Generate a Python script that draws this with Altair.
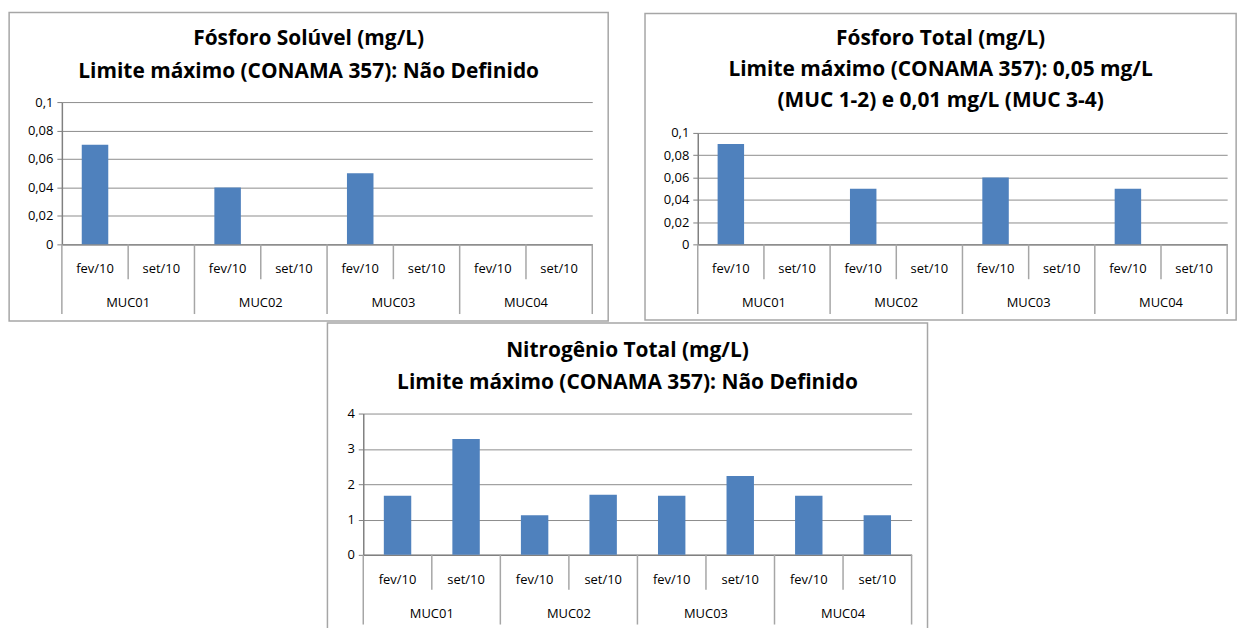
import altair as alt
import pandas as pd

stations = ["MUC01", "MUC02", "MUC03", "MUC04"]
months = ["fev/10", "set/10"]

fosforo_soluvel = [0.07, None, 0.04, None, 0.05, None, None, None]
fosforo_total = [0.09, None, 0.05, None, 0.06, None, 0.05, None]
nitrogenio_total = [1.67, 3.28, 1.12, 1.70, 1.67, 2.23, 1.67, 1.12]

ticks_fosforo = [0, 0.02, 0.04, 0.06, 0.08, 0.1]
ticks_nitro = [0, 1, 2, 3, 4]

titles = [
    "Fósforo Solúvel (mg/L)\nLimite máximo (CONAMA 357): Não Definido",
    "Fósforo Total  (mg/L)\nLimite máximo (CONAMA 357): 0,05 mg/L\n(MUC 1-2) e 0,01 mg/L (MUC 3-4)",
    "Nitrogênio Total  (mg/L)\nLimite máximo (CONAMA 357): Não Definido",
]

BLUE = "#4F81BD"
GRID = "#8c8c8c"
FRAME = "#a6a6a6"
FONT = "Open Sans"
LBL = 13


def bars_df(values):
    rows = []
    i = 0
    for s in stations:
        for m in months:
            rows.append({"station": s, "month": m, "i": i, "value": values[i]})
            i += 1
    return pd.DataFrame(rows)


month_labels = pd.DataFrame(
    [{"pos": si * 2 + mi + 0.5, "label": m} for si in range(len(stations)) for mi, m in enumerate(months)]
)
station_labels = pd.DataFrame([{"pos": si * 2 + 1, "label": s} for si, s in enumerate(stations)])
n_cat = len(stations) * len(months)
long_sep = pd.DataFrame([{"b": b} for b in range(0, n_cat + 1, 2)])
short_sep = pd.DataFrame([{"b": b} for b in range(1, n_cat, 2)])


def panel(values, yticks, title, W, H, ytop, frame, title_dy, lh, extra_right=0):
    fl, fr, ft, fb = frame
    xscale = alt.Scale(domain=[0, n_cat], nice=False, zero=False)
    df = bars_df(values)
    bars = (
        alt.Chart(df)
        .transform_filter("isValid(datum.value)")
        .transform_calculate(x0="datum.i + 0.3", x1="datum.i + 0.7")
        .mark_bar(color=BLUE)
        .encode(
            x=alt.X(
                "x0:Q",
                scale=xscale,
                axis=alt.Axis(
                    labels=False, ticks=False, grid=False, title=None,
                    domainColor="#808080", domainWidth=1.5,
                ),
            ),
            x2="x1:Q",
            y=alt.Y(
                "value:Q",
                scale=alt.Scale(domain=[yticks[0], yticks[-1]], nice=False, range=[H, ytop]),
                axis=alt.Axis(
                    values=yticks,
                    title=None,
                    labelExpr="replace(format(datum.value, '~g'), '.', ',')",
                    labelFont=FONT,
                    labelFontSize=LBL,
                    labelColor="#000000",
                    labelPadding=4,
                    tickSize=5,
                    tickColor="#808080",
                    domainColor="#808080",
                    domainWidth=1.5,
                    gridColor=GRID,
                    gridWidth=1,
                ),
            ),
            y2=alt.datum(0),
        )
    )
    seps_long = (
        alt.Chart(long_sep)
        .mark_rule(color=FRAME, strokeWidth=1.5)
        .encode(x=alt.X("b:Q", scale=xscale), y=alt.value(H), y2=alt.value(H + 70))
    )
    seps_short = (
        alt.Chart(short_sep)
        .mark_rule(color=FRAME, strokeWidth=1.5)
        .encode(x=alt.X("b:Q", scale=xscale), y=alt.value(H), y2=alt.value(H + 35))
    )
    mlab = (
        alt.Chart(month_labels)
        .mark_text(font=FONT, fontSize=LBL, color="#000000", baseline="middle")
        .encode(x=alt.X("pos:Q", scale=xscale), y=alt.value(H + 25), text="label:N")
    )
    slab = (
        alt.Chart(station_labels)
        .mark_text(font=FONT, fontSize=LBL, color="#000000", baseline="middle")
        .encode(x=alt.X("pos:Q", scale=xscale), y=alt.value(H + 59), text="label:N")
    )
    frame_rect = (
        alt.Chart(alt.Data(values=[{}]))
        .mark_rect(fillOpacity=0, stroke=FRAME, strokeWidth=1.5)
        .encode(
            x=alt.value(fl), x2=alt.value(W + fr + extra_right), y=alt.value(ft), y2=alt.value(H + fb),
            strokeOpacity=alt.value(1),
        )
    )
    layers = [frame_rect]
    if extra_right:
        # visible frame is narrower; the wider rect above is made invisible
        frame_rect = frame_rect.encode(strokeOpacity=alt.value(0))
        visible = (
            alt.Chart(alt.Data(values=[{}]))
            .mark_rect(fillOpacity=0, stroke=FRAME, strokeWidth=1.5)
            .encode(x=alt.value(fl), x2=alt.value(W + fr), y=alt.value(ft), y2=alt.value(H + fb))
        )
        layers = [frame_rect, visible]
    ttl = (
        alt.Chart(alt.Data(values=[{"t": title}]))
        .mark_text(
            font=FONT, fontSize=21, fontWeight="bold", color="#000000",
            lineBreak="\n", lineHeight=lh, baseline="middle", align="center",
        )
        .encode(x=alt.value((fl + W + fr) / 2), y=alt.value(title_dy), text="t:N")
    )
    return alt.layer(*layers, bars, seps_long, seps_short, mlab, slab, ttl).properties(
        width=W, height=H
    )


c1 = panel(fosforo_soluvel, ticks_fosforo, titles[0], 533, 143, 0, (-53, 16, -90, 77), -63, 33)
c2 = panel(fosforo_total, ticks_fosforo, titles[1], 532, 143, 31, (-53, 9, -89, 76), -63, 31)
c3 = panel(nitrogenio_total, ticks_nitro, titles[2], 551, 142, 0, (-36, 16, -91, 77), -63, 32, extra_right=8)

chart = (
    alt.vconcat(alt.hconcat(c1, c2, spacing=35), c3, spacing=0, center=True)
    .properties(padding={"left": 0, "top": 2, "right": 0, "bottom": 0})
    .configure_view(strokeWidth=0)
)

chart.save("out.html", embed_options={"renderer": "svg", "actions": False})
